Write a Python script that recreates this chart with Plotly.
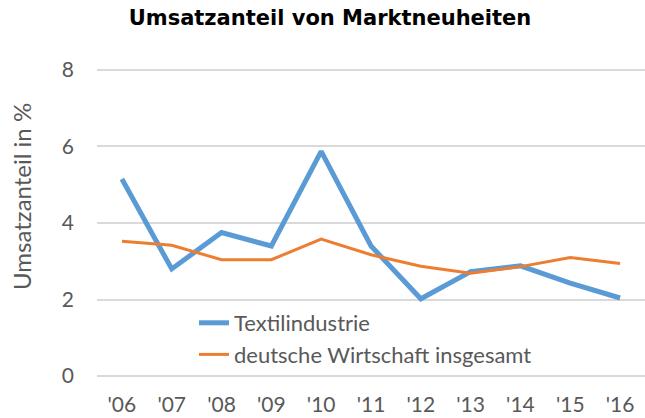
import plotly.graph_objects as go

years = ["'06", "'07", "'08", "'09", "'10", "'11", "'12", "'13", "'14", "'15", "'16"]
textil = [5.15, 2.8, 3.75, 3.4, 5.87, 3.4, 2.02, 2.73, 2.88, 2.43, 2.04]
deutsche = [3.52, 3.42, 3.04, 3.04, 3.58, 3.17, 2.87, 2.69, 2.86, 3.1, 2.94]

font_fam = "Lato, 'Open Sans', sans-serif"
grey = "#595959"

L, R, T, B = 97, 0, 68, 40
W, H = 645, 418
pw, ph = W - L - R, H - T - B

fig = go.Figure()
fig.add_trace(go.Scatter(x=years, y=textil, mode="lines", name="Textilindustrie",
                         line=dict(color="#5B9BD5", width=5)))
fig.add_trace(go.Scatter(x=years, y=deutsche, mode="lines", name="deutsche Wirtschaft insgesamt",
                         line=dict(color="#ED7D31", width=3)))

fig.update_layout(
    width=W, height=H,
    margin=dict(l=L, r=R, t=T, b=B, autoexpand=False),
    paper_bgcolor="white", plot_bgcolor="white",
    title=dict(text="<b>Umsatzanteil von Marktneuheiten</b>", x=330 / W, xanchor="center",
               xref="container", y=1 - 18 / H, yanchor="middle",
               font=dict(family="'DejaVu Sans', sans-serif", size=21, color="black")),
    showlegend=True,
    legend=dict(x=(194 - L) / pw, y=(H - B - 302) / ph, xanchor="left", yanchor="top",
                bgcolor="rgba(0,0,0,0)",
                font=dict(family=font_fam, size=22, color=grey), tracegroupgap=0),
    xaxis=dict(type="category", range=[-0.5, 10.5], showgrid=False, showline=False,
               zeroline=False, ticks="", automargin=False,
               tickfont=dict(family=font_fam, size=21, color=grey),
               ticklabelstandoff=12),
    yaxis=dict(range=[-0.05, 8.05], tickvals=[0, 2, 4, 6, 8], showgrid=True, gridcolor="#D9D9D9",
               gridwidth=1.5, zeroline=False, showline=False, ticks="", automargin=False,
               tickfont=dict(family=font_fam, size=21, color=grey), ticklabelstandoff=22),
    annotations=[dict(text="Umsatzanteil in %", xref="paper", yref="paper",
                      x=(21 - L) / pw, y=(H - B - 197) / ph, xanchor="center", yanchor="middle",
                      textangle=-90, showarrow=False,
                      font=dict(family=font_fam, size=24, color=grey))],
)

fig.write_html("out.html", config={"displayModeBar": False},
               post_script="document.body.style.margin='0';document.body.style.overflow='hidden';")
